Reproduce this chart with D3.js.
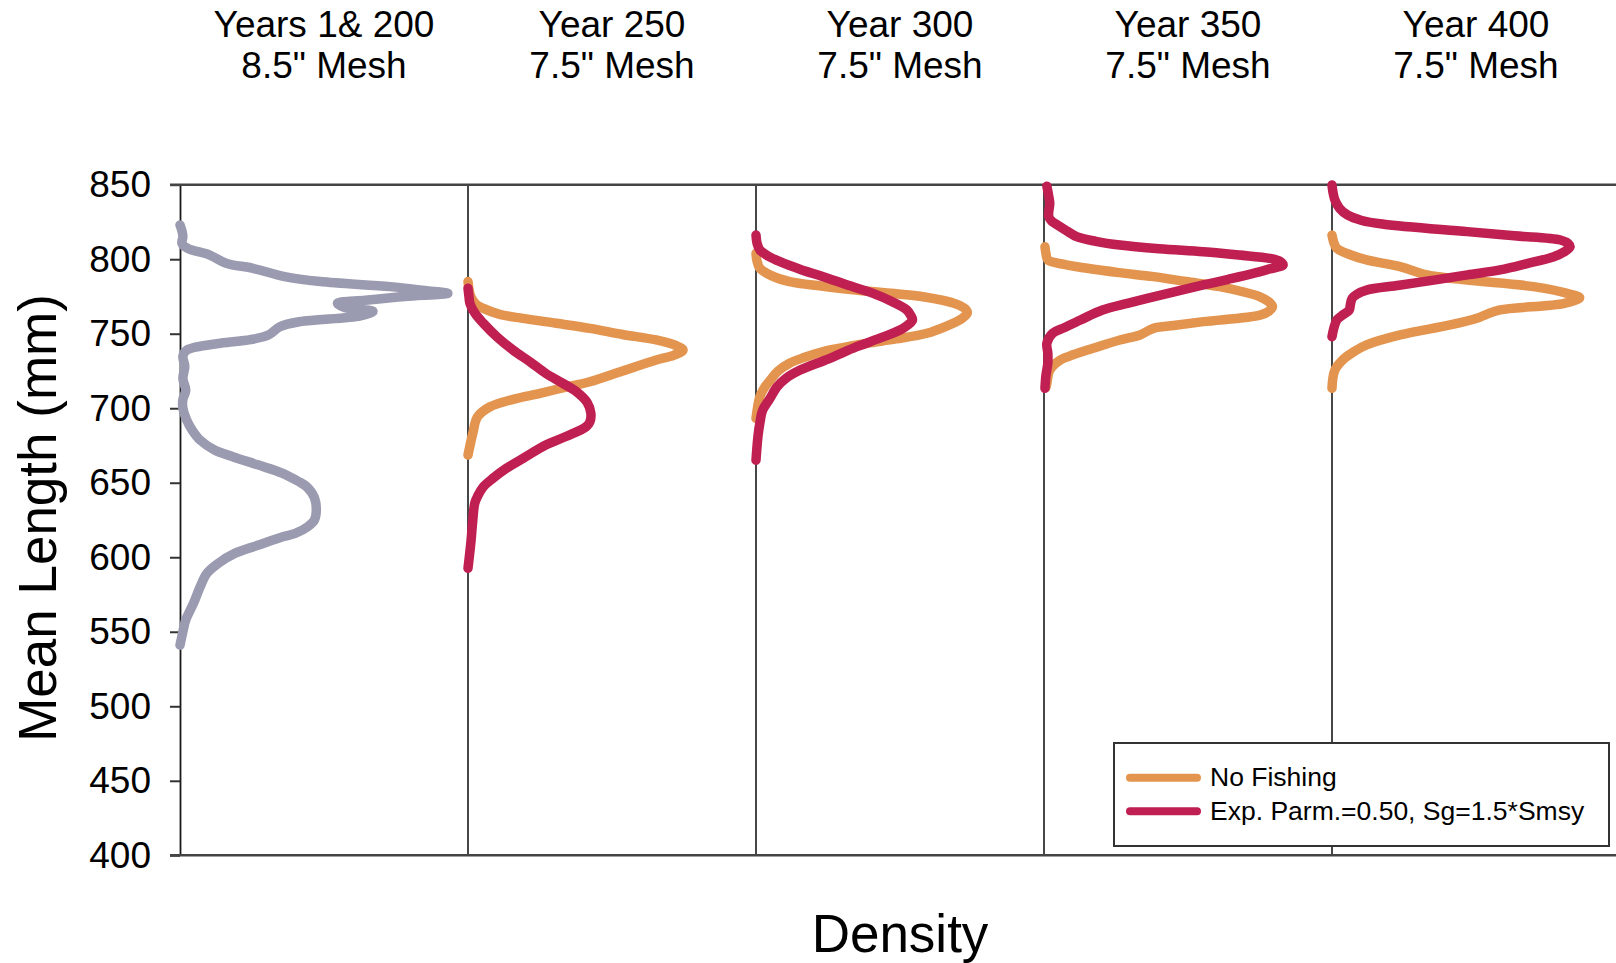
<!DOCTYPE html>
<html>
<head>
<meta charset="utf-8">
<script src="https://cdn.jsdelivr.net/npm/d3@7"></script>
<style>
  html, body { margin: 0; padding: 0; background: #fff; }
  svg { display: block; font-family: "Liberation Sans", Arial, Helvetica, sans-serif; }
</style>
</head>
<body>
<svg id="chart" width="1616" height="963"></svg>
<script>
// Panel headings (two lines each)
const panelYears = ["Years 1& 200", "Year 250", "Year 300", "Year 350", "Year 400"];
const panelMesh = ["8.5\" Mesh", "7.5\" Mesh", "7.5\" Mesh", "7.5\" Mesh", "7.5\" Mesh"];
const yTicks = [400, 450, 500, 550, 600, 650, 700, 750, 800, 850];
const legendLabels = ["No Fishing", "Exp. Parm.=0.50, Sg=1.5*Smsy"];

// Density profiles: [mean length (mm), density (x1e-3 per mm)]
const base200 = [
  [823,0.0],[819,0.2],[815,0.3],[810.7,0.2],[807.3,0.8],[802.8,3.1],[797.3,4.8],[793.9,7.6],
  [788.3,10.9],[785,14.6],[781.6,21.9],[779,25.5],[777.1,27.9],[775,23.4],[772.5,19.3],
  [770.4,16.4],[767.5,17.2],[765,20.1],[762,18.8],[758.1,12.5],[754.7,10.4],[749.1,9.2],
  [746,7.3],[743.6,4.2],[739,0.7],[735,0.3],[728,0.5],[720,0.3],[712,0.6],[706,0.3],
  [700,0.3],[692,0.7],[685,1.3],[678.6,2.1],[672,3.6],[667.5,5.5],[662,8.1],
  [656.3,10.7],[651,12.3],[647.3,13.2],[640,14.0],[631.7,14.2],[625,14.0],[620.5,13.3],
  [616,12.0],[613.8,10.7],[608,8.1],[602.6,5.7],[596,4.0],[589.2,2.8],[580.2,2.1],
  [569,1.4],[558,0.6],[550,0.3],[541,0.0]
];

const noFish250 = [
  [785,0],[780,0.1],[774.8,0.3],[770,0.8],[767,1.6],[763,3.3],[760.3,5.7],[757,9.2],
  [753.6,12.7],[749.5,16.1],[745.8,19.6],[742,21.7],[739,22.4],[735.5,21.4],[732.4,19.6],
  [725,16.1],[717.8,12.7],[714,10.1],[710,7.5],[706,4.7],[701,2.3],[694.3,1.0],[683.2,0.5],[668.6,0]
];
const fished250 = [
  [780.5,0],[775,0.1],[770.4,0.2],[764,0.7],[757,1.6],[748,3.0],[739,4.7],[731,6.5],
  [723.4,8.1],[717,9.8],[711.1,11.3],[704,12.4],[696.6,12.8],[691,12.7],[687.6,12.3],
  [681,10.2],[675.3,8.1],[667,5.9],[659.7,4.0],[653,2.6],[647.3,1.6],[641,1.0],[636.2,0.7],
  [625,0.5],[610,0.3],[592.6,0]
];

const noFish300 = [
  [804,0],[799,0.1],[793.9,0.4],[789,1.6],[785,3.5],[782,6.8],[779.3,10.4],[774.8,17.4],
  [770,20.8],[766,21.9],[763.7,22.0],[760,21.4],[755,19.8],[750.3,17.8],[746.5,14.6],
  [743.6,11.6],[740.5,8.9],[738,7.0],[734,5.0],[730.2,3.5],[725,2.3],[719,1.5],[713,0.8],
  [707.7,0.4],[693.2,0]
];
const fished300 = [
  [816.2,0],[811,0.1],[806.2,0.4],[802,1.3],[798.3,2.5],[793,4.7],[788.3,7.0],[782.5,9.6],
  [777.1,12.2],[771.5,14.2],[766,15.7],[762.5,16.1],[759.2,16.3],[755.8,15.8],[752.5,15.0],
  [747,12.9],[741.3,10.5],[733,7.5],[725.6,4.6],[720,3.1],[714.4,2.2],[706,1.4],[698.8,0.7],
  [690,0.4],[680.9,0.2],[665.2,0]
];

const noFish350 = [
  [808.4,0.1],[804,0.2],[799.5,0.4],[796.5,2.1],[793.9,4.5],[791,7.8],[788.3,11.4],[785,14.8],
  [781.6,18.3],[778,20.8],[774.8,22.5],[771.5,23.4],[768.1,23.8],[765,23.4],[762.5,22.5],
  [758.1,16.6],[755.5,13.5],[753.6,11.4],[749.2,10.0],[745.8,7.9],[740.2,5.1],[736,3.1],
  [732.4,1.7],[725.6,0.6],[716.7,0.3],[714,0.2]
];
const fished350 = [
  [849,0.3],[842,0.5],[837.5,0.6],[832,0.5],[828.5,0.5],[825.5,0.8],[823,1.4],[818.5,2.5],
  [815.1,3.4],[812,5.4],[809.5,7.9],[807,12.0],[805,16.6],[802.8,20.3],[800.6,23.5],
  [798.5,24.6],[796.1,24.9],[793.5,23.5],[790.5,21.8],[786.5,19.2],[782.7,16.6],[778.8,14.0],
  [774.8,11.4],[770.5,8.8],[765.9,6.1],[759.2,3.8],[754,2.1],[750.3,0.9],[743.6,0.3],
  [737,0.4],[730.2,0.4],[722,0.2],[713.4,0.1]
];

const noFish400 = [
  [816.2,0],[811,0.2],[807.3,0.5],[803,1.9],[799.5,3.6],[795,7.1],[789.4,9.9],[786,14.1],
  [781.6,21.0],[777.1,24.5],[774.2,25.8],[770.4,24.2],[766,17.5],[763,16.1],[760.4,15.1],
  [755.9,12.3],[749.2,7.1],[742.5,3.6],[738,2.3],[733.5,1.3],[725.6,0.3],[713.4,0]
];
const fished400 = [
  [849.8,0],[845,0.1],[839.7,0.3],[834,0.8],[829.7,1.6],[826,3.1],[823.5,5.4],[818.5,14.1],
  [815.7,19.0],[812.9,23.8],[810.5,24.6],[808.4,24.8],[805,24.2],[801.7,23.1],[797,20.3],
  [792.8,17.5],[789.5,14.1],[786,10.6],[782.5,7.0],[779.3,3.6],[776.5,2.6],[773.8,2.1],
  [769,1.9],[765.9,1.8],[762,1.0],[759.2,0.5],[754,0.2],[748,0]
];

// Which profiles sit in which panel
const panels = [
  { lines: [{ data: base200, kind: "base" }] },
  { lines: [{ data: noFish250, kind: "nofish" }, { data: fished250, kind: "fished" }] },
  { lines: [{ data: noFish300, kind: "nofish" }, { data: fished300, kind: "fished" }] },
  { lines: [{ data: noFish350, kind: "nofish" }, { data: fished350, kind: "fished" }] },
  { lines: [{ data: noFish400, kind: "nofish" }, { data: fished400, kind: "fished" }] }
];

const colors = { base: "#9a9ab0", nofish: "#e3944f", fished: "#bf1f51" };

const W = 1616, H = 963;
const plotLeft = 180, plotTop = 184.7, plotBottom = 855.3, panelW = 288;

const svg = d3.select("#chart");

const y = d3.scaleLinear().domain([400, 850]).range([plotBottom, plotTop]);
const panelX = d3.scaleBand()
  .domain(d3.range(panels.length))
  .range([plotLeft, plotLeft + panelW * panels.length])
  .paddingInner(0).paddingOuter(0);
const dens = d3.scaleLinear().domain([0, 30]).range([0, panelW]);

// Panel separators
svg.append("g").selectAll("line")
  .data(d3.range(1, panels.length))
  .join("line")
  .attr("x1", i => panelX(i)).attr("x2", i => panelX(i))
  .attr("y1", plotTop).attr("y2", plotBottom)
  .attr("stroke", "#1a1a1a").attr("stroke-width", 1.6);

// Left axis with ticks
const yAxis = d3.axisLeft(y).tickValues(yTicks).tickSize(10).tickSizeOuter(0).tickPadding(19);
const gy = svg.append("g").attr("transform", `translate(${plotLeft},0)`).call(yAxis);
gy.select(".domain").attr("stroke", "#1a1a1a").attr("stroke-width", 1.8);
gy.selectAll(".tick line").attr("stroke", "#333").attr("stroke-width", 2);
gy.selectAll(".tick text")
  .attr("font-size", 37).attr("fill", "#000")
  .attr("font-family", "\"Liberation Sans\", Arial, sans-serif");

// Top and bottom frame lines
svg.append("g").selectAll("line")
  .data([850, 400])
  .join("line")
  .attr("x1", plotLeft - 10).attr("x2", W)
  .attr("y1", d => y(d)).attr("y2", d => y(d))
  .attr("stroke", "#444").attr("stroke-width", 2.5);

// Density curves
const line = d3.line()
  .x(d => d[1])
  .y(d => y(d[0]))
  .curve(d3.curveCatmullRom.alpha(0.5));

panels.forEach((p, i) => {
  const g = svg.append("g").attr("transform", `translate(${panelX(i)},0)`);
  p.lines.forEach(l => {
    g.append("path")
      .attr("d", line(l.data.map(d => [d[0], dens(d[1])])))
      .attr("fill", "none")
      .attr("stroke", colors[l.kind])
      .attr("stroke-width", 9.5)
      .attr("stroke-linecap", "round")
      .attr("stroke-linejoin", "round");
  });
});

// Panel headings
const heads = svg.append("g").attr("text-anchor", "middle").attr("font-size", 37).attr("fill", "#000");
panelYears.forEach((t, i) => {
  const cx = panelX(i) + panelX.bandwidth() / 2;
  heads.append("text").attr("x", cx).attr("y", 37).text(t);
  heads.append("text").attr("x", cx).attr("y", 78).text(panelMesh[i]);
});

// Axis titles
svg.append("text")
  .attr("transform", "translate(56,518) rotate(-90)")
  .attr("text-anchor", "middle").attr("font-size", 53).attr("fill", "#000")
  .text("Mean Length (mm)");
svg.append("text")
  .attr("x", (plotLeft + W + 4) / 2).attr("y", 952)
  .attr("text-anchor", "middle").attr("font-size", 53).attr("fill", "#000")
  .text("Density");

// Legend
const lg = svg.append("g").attr("transform", "translate(1114,743)");
lg.append("rect").attr("width", 495).attr("height", 103)
  .attr("fill", "#fff").attr("stroke", "#333").attr("stroke-width", 2);
const legendKinds = ["nofish", "fished"];
legendLabels.forEach((t, i) => {
  const ly = 34.7 + i * 33.5;
  lg.append("line")
    .attr("x1", 16).attr("x2", 83).attr("y1", ly).attr("y2", ly)
    .attr("stroke", colors[legendKinds[i]]).attr("stroke-width", 8)
    .attr("stroke-linecap", "round");
  lg.append("text")
    .attr("x", 96).attr("y", ly + 8.5)
    .attr("font-size", 26.5).attr("fill", "#000")
    .text(t);
});
</script>
</body>
</html>
